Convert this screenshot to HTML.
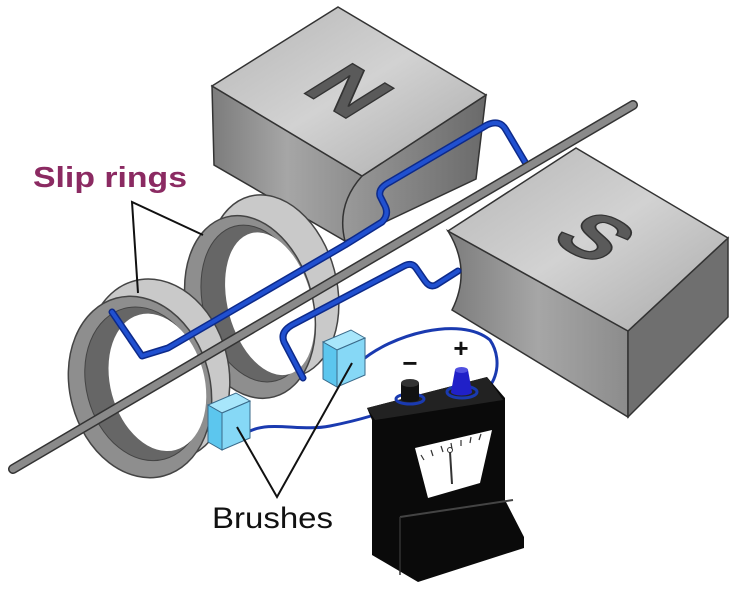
<!DOCTYPE html>
<html><head><meta charset="utf-8"><style>
html,body{margin:0;padding:0;background:#fff;}
svg{display:block;}
</style></head><body>
<svg width="735" height="590" viewBox="0 0 735 590" xmlns="http://www.w3.org/2000/svg">
<defs>
<linearGradient id="top" x1="0" y1="0" x2="1" y2="1"><stop offset="0" stop-color="#b5b5b5"/><stop offset="0.5" stop-color="#d2d2d2"/><stop offset="1" stop-color="#a9a9a9"/></linearGradient>
<linearGradient id="front" x1="0" y1="0" x2="1" y2="0"><stop offset="0" stop-color="#7c7c7c"/><stop offset="0.5" stop-color="#a6a6a6"/><stop offset="1" stop-color="#8c8c8c"/></linearGradient>
<linearGradient id="side" x1="0" y1="0" x2="1" y2="0"><stop offset="0" stop-color="#9a9a9a"/><stop offset="1" stop-color="#6a6a6a"/></linearGradient>
</defs>

<!-- N block -->
<polygon points="212,86 362,176 345,241 214,165" fill="url(#front)" stroke="#333" stroke-width="1.5"/>
<path d="M362,176 L486,95 L476,179 L345,241 Q336,205 362,176 Z" fill="url(#side)" stroke="#333" stroke-width="1.5"/>
<polygon points="212,86 338,7 486,95 362,176" fill="url(#top)" stroke="#333" stroke-width="1.5"/>
<text transform="matrix(0.857,0.514,-0.85,0.53,349,91)" x="0" y="28" text-anchor="middle" font-family="Liberation Sans, sans-serif" font-weight="bold" font-size="82" fill="#5a5a5a" stroke="#333" stroke-width="1.5">N</text>

<!-- S block -->
<path d="M448,231 L628,331 L628,417 L452,310 Q472,270 448,231 Z" fill="url(#front)" stroke="#333" stroke-width="1.5"/>
<polygon points="628,331 728,238 728,317 628,417" fill="#6f6f6f" stroke="#333" stroke-width="1.5"/>
<polygon points="448,231 576,148 728,238 628,331" fill="url(#top)" stroke="#333" stroke-width="1.5"/>
<text transform="matrix(0.874,0.485,-0.84,0.55,595,237)" x="0" y="28" text-anchor="middle" font-family="Liberation Sans, sans-serif" font-weight="bold" font-size="82" fill="#5a5a5a" stroke="#333" stroke-width="1.5">S</text>

<!-- Ring 2 -->
<g transform="rotate(-15 250 307)">
<ellipse cx="278" cy="293" rx="63" ry="93" fill="#c9c9c9" stroke="#444" stroke-width="1.5"/>
<ellipse cx="250" cy="307" rx="63" ry="93" fill="#8e8e8e" stroke="#444" stroke-width="1.5"/>
<ellipse cx="256" cy="305" rx="52" ry="80" fill="#666" stroke="#444"/>
<ellipse cx="270" cy="309" rx="42" ry="73" fill="#fff"/>
</g>
<!-- Ring 1 -->
<g transform="rotate(-15 140 387)">
<ellipse cx="162" cy="375" rx="70" ry="92" fill="#c9c9c9" stroke="#444" stroke-width="1.5"/>
<ellipse cx="140" cy="387" rx="70" ry="92" fill="#8e8e8e" stroke="#444" stroke-width="1.5"/>
<ellipse cx="145" cy="385" rx="58" ry="78" fill="#666" stroke="#444"/>
<ellipse cx="158" cy="387" rx="47" ry="70" fill="#fff"/>
</g>

<!-- coil wires -->
<g fill="none" stroke-linejoin="round" stroke-linecap="round">
<path d="M112,312 L142,356 L168,348 L345,245 L382,222 Q390,214 384,204 L380,196 Q378,188 390,182 L487,125 Q500,119 506,130 L525,162" stroke="#0d2a8a" stroke-width="7"/>
<path d="M112,312 L142,356 L168,348 L345,245 L382,222 Q390,214 384,204 L380,196 Q378,188 390,182 L487,125 Q500,119 506,130 L525,162" stroke="#2050d0" stroke-width="4"/>
<path d="M458,271 L436,285 Q430,288 425,281 L416,268 Q412,262 404,266 L292,325 Q280,332 284,342 L303,378" stroke="#0d2a8a" stroke-width="7"/>
<path d="M458,271 L436,285 Q430,288 425,281 L416,268 Q412,262 404,266 L292,325 Q280,332 284,342 L303,378" stroke="#2050d0" stroke-width="4"/>
</g>

<!-- shaft -->
<line x1="13" y1="469" x2="633" y2="105" stroke="#333" stroke-width="10" stroke-linecap="round"/>
<line x1="13" y1="469" x2="633" y2="105" stroke="#8a8a8a" stroke-width="7" stroke-linecap="round"/>

<!-- meter wires -->
<g fill="none" stroke="#1a3ab0" stroke-width="3" stroke-linecap="round">
<path d="M360,362 C390,335 460,315 490,340 C505,362 495,395 470,397"/>
<path d="M248,432 C270,420 300,432 330,426 S380,414 410,402"/>
</g>

<!-- brushes -->
<g stroke="#3a6a8a" stroke-width="1">
<polygon points="208,405 236,393 250,401 222,413" fill="#a8e6fb"/>
<polygon points="208,405 222,413 222,450 208,442" fill="#5cc6ee"/>
<polygon points="222,413 250,401 250,438 222,450" fill="#86d8f6"/>
<polygon points="323,342 351,330 365,338 337,350" fill="#a8e6fb"/>
<polygon points="323,342 337,350 337,387 323,379" fill="#5cc6ee"/>
<polygon points="337,350 365,338 365,375 337,387" fill="#86d8f6"/>
</g>

<!-- meter -->
<polygon points="367,408 487,377 505,398 505,500 524,537 524,548 418,582 372,555 372,420" fill="#0a0a0a"/>
<polygon points="367,408 487,377 503,400 375,420" fill="#222"/>
<polyline points="400,517 513,500" stroke="#444" stroke-width="2" fill="none"/>
<polyline points="400,517 400,575" stroke="#333" stroke-width="1.5" fill="none"/>
<polygon points="415,448 492,430 480,483 428,498" fill="#fff"/>
<g stroke="#333" stroke-width="1.2">
<line x1="421" y1="455" x2="424" y2="460"/><line x1="431" y1="450" x2="433" y2="456"/><line x1="441" y1="446" x2="443" y2="452"/><line x1="451" y1="443" x2="452" y2="449"/><line x1="461" y1="440" x2="461" y2="446"/><line x1="471" y1="437" x2="470" y2="443"/><line x1="481" y1="434" x2="479" y2="440"/>
<line x1="450" y1="452" x2="452" y2="484" stroke-width="2"/>
</g>
<circle cx="450" cy="450" r="2.5" fill="none" stroke="#333"/>
<!-- terminals -->
<ellipse cx="410" cy="399" rx="14" ry="5" fill="none" stroke="#1a3ab0" stroke-width="3"/>
<rect x="401" y="383" width="18" height="16" fill="#111"/>
<ellipse cx="410" cy="399" rx="9" ry="3" fill="#111"/>
<ellipse cx="410" cy="383" rx="9" ry="4" fill="#333"/>
<ellipse cx="462" cy="392" rx="15" ry="6" fill="none" stroke="#1a3ab0" stroke-width="3"/>
<path d="M451,392 L455,370 L468,370 L472,392 Z" fill="#2020c8"/>
<ellipse cx="461.5" cy="392" rx="10.5" ry="3.5" fill="#2020c8"/>
<ellipse cx="461.5" cy="370" rx="6.5" ry="3" fill="#5050e0"/>
<text x="410" y="372" text-anchor="middle" font-family="Liberation Sans, sans-serif" font-weight="bold" font-size="26" fill="#111">−</text>
<text x="461" y="357" text-anchor="middle" font-family="Liberation Sans, sans-serif" font-weight="bold" font-size="26" fill="#111">+</text>

<!-- labels -->
<text x="33" y="187" font-family="Liberation Sans, sans-serif" font-weight="bold" font-size="29" fill="#8b2a62" textLength="154" lengthAdjust="spacingAndGlyphs">Slip rings</text>
<polyline points="138,293 132,202 203,235" fill="none" stroke="#111" stroke-width="2"/>
<text x="212" y="528" font-family="Liberation Sans, sans-serif" font-size="30" fill="#111" textLength="121" lengthAdjust="spacingAndGlyphs">Brushes</text>
<polyline points="237,427 277,497 352,363" fill="none" stroke="#111" stroke-width="2"/>
</svg>
</body></html>
